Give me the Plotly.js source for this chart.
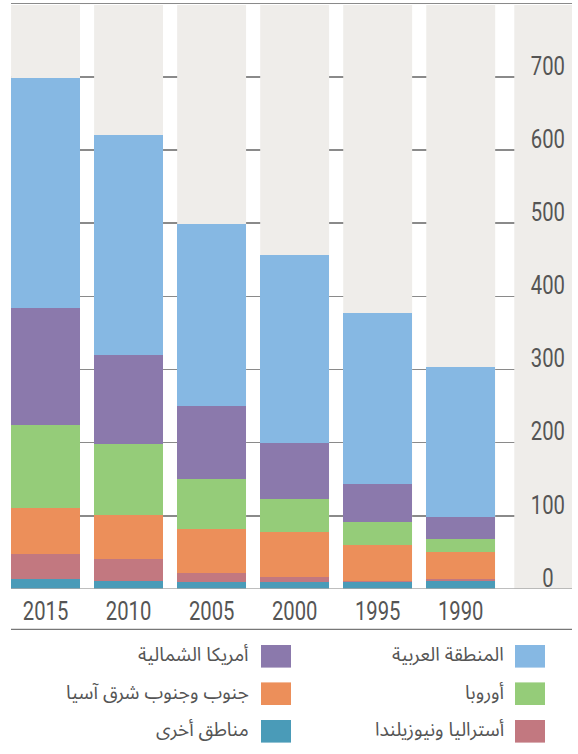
<!DOCTYPE html>
<html>
<head>
<meta charset="utf-8">
<script src="https://cdn.plot.ly/plotly-3.0.1.min.js"></script>
<style>
html,body{margin:0;padding:0;background:#fff;}
#chart{width:578px;height:754px;}
</style>
</head>
<body>
<div id="chart"></div>
<script>
// ---- data ----
var years = ["2015", "2010", "2005", "2000", "1995", "1990"];
var otherRegions   = [13, 11.5, 9, 9, 9, 10.5];      // مناطق أخرى
var australiaNZ    = [35.5, 29, 13.5, 8, 2.5, 2.5];   // أستراليا ونيوزيلندا
var southAsia      = [62, 60, 60, 61.5, 48, 38];      // جنوب وجنوب شرق آسيا
var europe         = [113, 97, 68.5, 44, 31.5, 18];   // أوروبا
var northAmerica   = [161, 122, 98.5, 76.5, 52, 29];  // أمريكا الشمالية
var arabRegion     = [313.5, 301, 249, 257, 234, 205];// المنطقة العربية
var yTickVals  = [0, 100, 200, 300, 400, 500, 600, 700, 800];
var yTickText  = ["\u20070\u2007", "100", "200", "300", "400", "500", "600", "700", ""];

var seriesNames = ["مناطق أخرى", "أستراليا ونيوزيلندا", "جنوب وجنوب شرق آسيا", "أوروبا", "أمريكا الشمالية", "المنطقة العربية"];
var seriesData  = [otherRegions, australiaNZ, southAsia, europe, northAmerica, arabRegion];
var colors = ["#4a9bb8", "#c27880", "#ec8f5a", "#95cc79", "#8b79ac", "#86b8e3"];

var traces = seriesData.map(function (vals, i) {
  return {
    type: "bar",
    x: years,
    y: vals,
    name: seriesNames[i],
    width: 0.83,
    marker: { color: colors[i], line: { width: 0 } },
    showlegend: false,
    hoverinfo: "x+y+name"
  };
});

var H = 589; // plot area height in px
function py(pix) { return (H - pix) / H; }   // page pixel y -> paper y
function px(pix) { return (pix - 11) / 561; } // page pixel x -> paper x

var shapes = [];
// light grey background columns behind each bar
years.forEach(function (y, i) {
  shapes.push({ type: "rect", xref: "x", yref: "y", x0: i - 0.415, x1: i + 0.415, y0: 0, y1: 798,
    fillcolor: "#efedea", line: { width: 0 }, layer: "between" });
});
// axis column
shapes.push({ type: "rect", xref: "x", yref: "y", x0: 5.645, x1: 6.4, y0: 0, y1: 798,
  fillcolor: "#efedea", line: { width: 0 }, layer: "between" });
// baseline
shapes.push({ type: "line", xref: "paper", yref: "y", x0: 0, x1: 1, y0: 0, y1: 0,
  line: { color: "#a8a8a8", width: 1.5 }, layer: "above" });
// line below the year labels
shapes.push({ type: "line", xref: "paper", yref: "paper", x0: 0, x1: 1, y0: py(629.3), y1: py(629.3),
  line: { color: "#777777", width: 1.3 } });

// legend (right-to-left, two columns)
var legendOrder = [
  { idx: 5, col: 0, row: 0 }, { idx: 3, col: 0, row: 1 }, { idx: 1, col: 0, row: 2 },
  { idx: 4, col: 1, row: 0 }, { idx: 2, col: 1, row: 1 }, { idx: 0, col: 1, row: 2 }
];
var rowY = [656.3, 693.7, 731.3];
var swatchX = [515, 261];
var textRight = [505, 250];
var annotations = [];
legendOrder.forEach(function (it) {
  var cy = rowY[it.row];
  shapes.push({ type: "rect", xref: "paper", yref: "paper",
    x0: px(swatchX[it.col]), x1: px(swatchX[it.col] + 30),
    y0: py(cy + 11.3), y1: py(cy - 11.3),
    fillcolor: colors[it.idx], line: { width: 0 } });
  annotations.push({ xref: "paper", yref: "paper", x: px(textRight[it.col]), y: py(cy - 1),
    xanchor: "right", yanchor: "middle", showarrow: false, text: seriesNames[it.idx],
    borderpad: 0,
    font: { family: "Noto Sans Arabic, DejaVu Sans, sans-serif", size: 19, color: "#555555" } });
});

var layout = {
  width: 578, height: 754,
  margin: { l: 11, r: 6, t: 0, b: 165 },
  paper_bgcolor: "#ffffff", plot_bgcolor: "#ffffff",
  barmode: "stack",
  showlegend: false,
  xaxis: {
    type: "category", categoryorder: "array", categoryarray: years,
    range: [-0.416, 6.34], showgrid: false, zeroline: false, showline: false, ticks: "",
    tickfont: { family: "Roboto, sans-serif", size: 25, color: "#555555" },
    ticklabelstandoff: 5,
    fixedrange: true
  },
  yaxis: {
    side: "right", range: [0, 805], tickmode: "array", tickvals: yTickVals, ticktext: yTickText,
    showgrid: true, gridcolor: "#8a8a8a", gridwidth: 1.5, zeroline: false, showline: false, ticks: "",
    ticklabelposition: "inside top",
    tickfont: { family: "Roboto, sans-serif", size: 25, color: "#555555" },
    fixedrange: true
  },
  shapes: shapes,
  annotations: annotations
};

// condense the tick-label glyphs horizontally (the original uses a condensed face)
// and seat the value labels right on their gridlines
function condense(gd) {
  var s = 0.81;
  gd.querySelectorAll(".xtick text, .ytick text").forEach(function (t) {
    var bb = t.getBBox();
    var cx = bb.x + bb.width / 2;
    var tr = t.getAttribute("transform") || "";
    var pre = t.parentNode.classList.contains("ytick") ? "translate(0,6.5) " : "";
    t.setAttribute("transform", pre + tr + " translate(" + cx + ",0) scale(" + s + ",1) translate(" + (-cx) + ",0)");
  });
}

Plotly.newPlot("chart", traces, layout, { displayModeBar: false, staticPlot: true }).then(condense);
</script>
</body>
</html>
